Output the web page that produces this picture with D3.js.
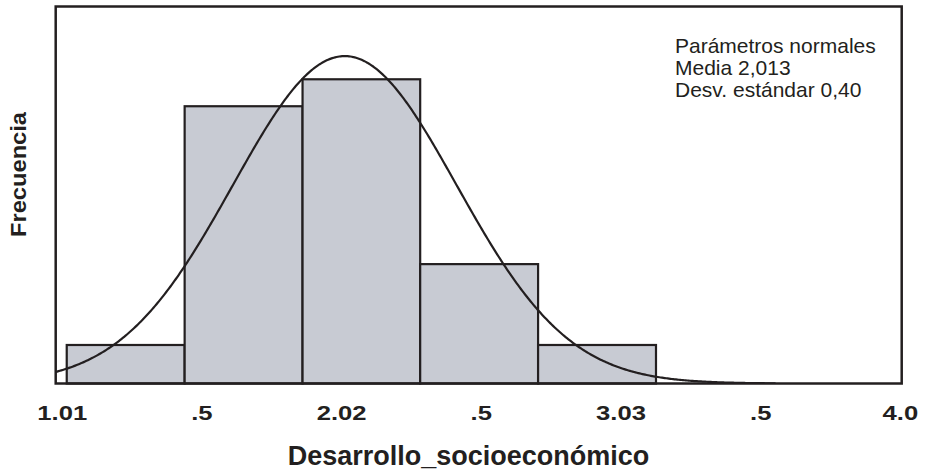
<!DOCTYPE html>
<html>
<head>
<meta charset="utf-8">
<script src="https://cdn.jsdelivr.net/npm/d3@7"></script>
<style>
  html, body { margin: 0; padding: 0; background: #fff; }
  svg { display: block; }
  text { font-family: "Liberation Sans", Arial, Helvetica, sans-serif; fill: #231f20; }
</style>
</head>
<body>
<svg id="chart" width="925" height="470"></svg>
<script>
// ---- data ----
const binEdges = [1.018, 1.440, 1.862, 2.283, 2.705, 3.127];
const frequencies = [1, 7.2, 7.9, 3.1, 1];
const tickValues = [1, 1.5, 2, 2.5, 3, 3.5, 4];
const tickLabels = ["1.01", ".5", "2.02", ".5", "3.03", ".5", "4.0"];
const normalMean = 2.013;
const normalSD = 0.40;
const curveEnd = 3.555;
const legendLines = ["Parámetros normales", "Media 2,013", "Desv. estándar 0,40"];
const xTitle = "Desarrollo_socioeconómico";
const yTitle = "Frecuencia";

// ---- layout ----
const frame = { left: 55.7, right: 901.7, top: 6.5, bottom: 383.5 };
const ink = "#231f20";

const svg = d3.select("#chart");

const x = d3.scaleLinear().domain([0.9785, 4.0064]).range([frame.left, frame.right]);
const y = d3.scaleLinear().domain([0, 9.79]).range([frame.bottom, frame.top]);

svg.append("clipPath").attr("id", "clip")
  .append("rect")
  .attr("x", frame.left).attr("y", frame.top)
  .attr("width", frame.right - frame.left).attr("height", frame.bottom - frame.top);

// bars
const bins = frequencies.map((f, i) => ({ x0: binEdges[i], x1: binEdges[i + 1], f }));
svg.append("g").selectAll("rect").data(bins).join("rect")
  .attr("x", d => x(d.x0))
  .attr("y", d => y(d.f))
  .attr("width", d => x(d.x1) - x(d.x0))
  .attr("height", d => y(0) - y(d.f))
  .attr("fill", "#c8cbd3")
  .attr("stroke", ink)
  .attr("stroke-width", 2.2);

// normal curve from the stated parameters
const total = d3.sum(frequencies);
const binW = binEdges[1] - binEdges[0];
const pdf = v => Math.exp(-0.5 * Math.pow((v - normalMean) / normalSD, 2)) / (normalSD * Math.sqrt(2 * Math.PI));
const curvePts = d3.range(x.domain()[0] - 0.05, curveEnd + 1e-9, 0.005).map(v => [v, total * binW * pdf(v)]);
curvePts.push([curveEnd, total * binW * pdf(curveEnd)]);
svg.append("path")
  .datum(curvePts)
  .attr("clip-path", "url(#clip)")
  .attr("fill", "none")
  .attr("stroke", ink)
  .attr("stroke-width", 2.2)
  .attr("d", d3.line().x(d => x(d[0])).y(d => y(d[1])));

// frame
svg.append("rect")
  .attr("x", frame.left).attr("y", frame.top)
  .attr("width", frame.right - frame.left).attr("height", frame.bottom - frame.top)
  .attr("fill", "none").attr("stroke", ink).attr("stroke-width", 2.5);

// x axis labels
const axis = d3.axisBottom(x).tickValues(tickValues).tickFormat((d, i) => tickLabels[i]).tickSize(0);
const gx = svg.append("g").attr("transform", `translate(0,${frame.bottom})`).call(axis);
gx.select(".domain").remove();
gx.selectAll("text")
  .attr("y", 36).attr("dy", 0)
  .style("font-family", '"Liberation Sans", Arial, sans-serif')
  .style("font-size", "20.5px").style("font-weight", "bold").style("fill", ink)
  .each(function () {
    const len = this.getComputedTextLength();
    d3.select(this).attr("textLength", len * 1.25).attr("lengthAdjust", "spacingAndGlyphs");
  });

// x title
svg.append("text")
  .attr("x", 468.5).attr("y", 465)
  .attr("text-anchor", "middle")
  .style("font-size", "27px").style("font-weight", "bold")
  .text(xTitle);

// y title
svg.append("text")
  .attr("transform", "translate(26,174.5) rotate(-90)")
  .attr("text-anchor", "middle")
  .attr("textLength", 125).attr("lengthAdjust", "spacingAndGlyphs")
  .style("font-size", "21.5px").style("font-weight", "bold")
  .text(yTitle);

// legend text
svg.append("g").selectAll("text").data(legendLines).join("text")
  .attr("x", 675)
  .attr("y", (d, i) => 53.3 + i * 21.7)
  .style("font-size", "21px")
  .text(d => d);
</script>
</body>
</html>
